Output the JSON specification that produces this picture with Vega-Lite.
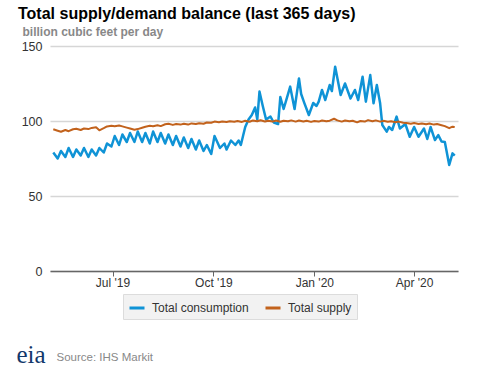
{
  "$schema": "https://vega.github.io/schema/vega-lite/v6.json",
  "width": 408,
  "height": 225,
  "autosize": "none",
  "padding": {"left": 50, "top": 46, "right": 19, "bottom": 96},
  "background": "#ffffff",
  "config": {"view": {"stroke": null}},
  "title": {
    "text": "Total supply/demand balance (last 365 days)",
    "anchor": "start",
    "frame": "group",
    "dx": -32,
    "dy": -3,
    "offset": 0,
    "font": "Liberation Sans",
    "fontSize": 16,
    "fontWeight": "bold",
    "color": "#000000"
  },
  "datasets": {
    "consumption": [
      {"d":"2019-05-08","v":79},{"d":"2019-05-12","v":75},{"d":"2019-05-15","v":80},{"d":"2019-05-19","v":76},
      {"d":"2019-05-22","v":82},{"d":"2019-05-26","v":76},{"d":"2019-05-29","v":81},{"d":"2019-06-02","v":77},
      {"d":"2019-06-05","v":82},{"d":"2019-06-09","v":76},{"d":"2019-06-12","v":81},{"d":"2019-06-16","v":77},
      {"d":"2019-06-19","v":82},{"d":"2019-06-23","v":79},{"d":"2019-06-26","v":85},{"d":"2019-06-30","v":83},
      {"d":"2019-07-03","v":90},{"d":"2019-07-07","v":84},{"d":"2019-07-10","v":91},{"d":"2019-07-14","v":86},
      {"d":"2019-07-17","v":92},{"d":"2019-07-21","v":86},{"d":"2019-07-24","v":93},{"d":"2019-07-28","v":86},
      {"d":"2019-07-31","v":92},{"d":"2019-08-04","v":85},{"d":"2019-08-07","v":93},{"d":"2019-08-11","v":86},
      {"d":"2019-08-14","v":92},{"d":"2019-08-18","v":85},{"d":"2019-08-21","v":91},{"d":"2019-08-25","v":84},
      {"d":"2019-08-28","v":90},{"d":"2019-09-01","v":83},{"d":"2019-09-04","v":89},{"d":"2019-09-08","v":82},
      {"d":"2019-09-11","v":88},{"d":"2019-09-15","v":81},{"d":"2019-09-18","v":87},{"d":"2019-09-22","v":80},
      {"d":"2019-09-25","v":84},{"d":"2019-09-29","v":78},{"d":"2019-10-02","v":90},{"d":"2019-10-07","v":82},
      {"d":"2019-10-11","v":85},{"d":"2019-10-13","v":81},{"d":"2019-10-17","v":87},{"d":"2019-10-21","v":84},
      {"d":"2019-10-24","v":87},{"d":"2019-10-26","v":84},{"d":"2019-10-28","v":90},{"d":"2019-10-30","v":96},
      {"d":"2019-11-02","v":101},{"d":"2019-11-05","v":104},{"d":"2019-11-08","v":109},{"d":"2019-11-10","v":101},
      {"d":"2019-11-12","v":119.6},{"d":"2019-11-15","v":110},{"d":"2019-11-18","v":101},{"d":"2019-11-22","v":103},
      {"d":"2019-11-25","v":99},{"d":"2019-11-29","v":98},{"d":"2019-12-01","v":116},{"d":"2019-12-04","v":108},
      {"d":"2019-12-06","v":112.9},{"d":"2019-12-10","v":122.9},{"d":"2019-12-14","v":108},{"d":"2019-12-18","v":128.4},
      {"d":"2019-12-20","v":118},{"d":"2019-12-23","v":111.8},{"d":"2019-12-27","v":104},{"d":"2019-12-31","v":112},
      {"d":"2020-01-03","v":110},{"d":"2020-01-05","v":112.9},{"d":"2020-01-08","v":120.7},{"d":"2020-01-11","v":114},
      {"d":"2020-01-15","v":124},{"d":"2020-01-17","v":120},{"d":"2020-01-20","v":136.2},{"d":"2020-01-25","v":117.3},
      {"d":"2020-01-29","v":125},{"d":"2020-02-03","v":115},{"d":"2020-02-07","v":120.7},{"d":"2020-02-10","v":114},
      {"d":"2020-02-14","v":129.5},{"d":"2020-02-17","v":112.9},{"d":"2020-02-21","v":130.6},{"d":"2020-02-24","v":111.8},
      {"d":"2020-02-27","v":124},{"d":"2020-03-01","v":111.8},{"d":"2020-03-03","v":97.3},{"d":"2020-03-07","v":92.9},
      {"d":"2020-03-09","v":96},{"d":"2020-03-12","v":94},{"d":"2020-03-16","v":102.9},{"d":"2020-03-19","v":95},
      {"d":"2020-03-24","v":98},{"d":"2020-03-28","v":89.5},{"d":"2020-04-01","v":96},{"d":"2020-04-05","v":89.5},
      {"d":"2020-04-10","v":95},{"d":"2020-04-13","v":88},{"d":"2020-04-16","v":96},{"d":"2020-04-20","v":87.3},
      {"d":"2020-04-23","v":90.6},{"d":"2020-04-26","v":86.3},{"d":"2020-04-29","v":86},{"d":"2020-05-03","v":70.7},
      {"d":"2020-05-06","v":78.4},{"d":"2020-05-08","v":76.9}
    ],
    "supply": [
      {"d":"2019-05-08","v":94.5},{"d":"2019-05-12","v":93.5},{"d":"2019-05-15","v":92.8},{"d":"2019-05-19","v":94},
      {"d":"2019-05-22","v":93.2},{"d":"2019-05-26","v":94.5},{"d":"2019-05-29","v":94.8},{"d":"2019-06-02","v":94},
      {"d":"2019-06-05","v":95},{"d":"2019-06-09","v":94.6},{"d":"2019-06-12","v":95.4},{"d":"2019-06-16","v":95.8},
      {"d":"2019-06-19","v":93.8},{"d":"2019-06-23","v":95.2},{"d":"2019-06-26","v":96.4},{"d":"2019-06-30","v":96.8},
      {"d":"2019-07-03","v":96.5},{"d":"2019-07-07","v":97},{"d":"2019-07-10","v":96.4},{"d":"2019-07-14","v":95.6},
      {"d":"2019-07-17","v":95},{"d":"2019-07-21","v":94.2},{"d":"2019-07-24","v":94.6},{"d":"2019-07-28","v":95.5},
      {"d":"2019-07-31","v":96.2},{"d":"2019-08-04","v":96.8},{"d":"2019-08-07","v":96.5},{"d":"2019-08-11","v":97.2},
      {"d":"2019-08-14","v":96.6},{"d":"2019-08-18","v":97.8},{"d":"2019-08-21","v":98.2},{"d":"2019-08-25","v":97.4},
      {"d":"2019-08-28","v":98},{"d":"2019-09-01","v":97.6},{"d":"2019-09-04","v":98.2},{"d":"2019-09-08","v":97.6},
      {"d":"2019-09-11","v":98.4},{"d":"2019-09-15","v":98},{"d":"2019-09-18","v":98.5},{"d":"2019-09-22","v":98.2},
      {"d":"2019-09-25","v":99},{"d":"2019-09-29","v":98.8},{"d":"2019-10-02","v":99.6},{"d":"2019-10-06","v":99.2},
      {"d":"2019-10-09","v":99.6},{"d":"2019-10-13","v":99.3},{"d":"2019-10-16","v":99.8},{"d":"2019-10-20","v":99.5},
      {"d":"2019-10-23","v":100},{"d":"2019-10-27","v":99.4},{"d":"2019-10-30","v":100.2},{"d":"2019-11-03","v":99.5},
      {"d":"2019-11-06","v":100.4},{"d":"2019-11-10","v":99.8},{"d":"2019-11-13","v":100.5},{"d":"2019-11-17","v":99.7},
      {"d":"2019-11-20","v":100.2},{"d":"2019-11-24","v":99.6},{"d":"2019-11-27","v":100.3},{"d":"2019-12-01","v":99.5},
      {"d":"2019-12-04","v":100.2},{"d":"2019-12-08","v":99.8},{"d":"2019-12-11","v":100.4},{"d":"2019-12-15","v":99.6},
      {"d":"2019-12-18","v":100.3},{"d":"2019-12-22","v":99.7},{"d":"2019-12-25","v":100.2},{"d":"2019-12-29","v":99.4},
      {"d":"2020-01-01","v":100},{"d":"2020-01-05","v":99.6},{"d":"2020-01-08","v":100.3},{"d":"2020-01-12","v":99.8},
      {"d":"2020-01-15","v":100.2},{"d":"2020-01-19","v":101.5},{"d":"2020-01-22","v":100.4},{"d":"2020-01-26","v":99.6},
      {"d":"2020-01-29","v":100.3},{"d":"2020-02-02","v":99.8},{"d":"2020-02-05","v":100.2},{"d":"2020-02-09","v":99.1},
      {"d":"2020-02-12","v":100},{"d":"2020-02-16","v":99.6},{"d":"2020-02-19","v":100.6},{"d":"2020-02-23","v":99.8},
      {"d":"2020-02-26","v":100.4},{"d":"2020-03-01","v":99.6},{"d":"2020-03-04","v":100.1},{"d":"2020-03-08","v":99.5},
      {"d":"2020-03-11","v":99.8},{"d":"2020-03-15","v":99.2},{"d":"2020-03-18","v":99.6},{"d":"2020-03-22","v":98.8},
      {"d":"2020-03-25","v":98.6},{"d":"2020-03-29","v":98.2},{"d":"2020-04-01","v":98.6},{"d":"2020-04-05","v":98},
      {"d":"2020-04-08","v":98.4},{"d":"2020-04-12","v":97.8},{"d":"2020-04-15","v":98.3},{"d":"2020-04-19","v":97.6},
      {"d":"2020-04-22","v":98},{"d":"2020-04-26","v":97.2},{"d":"2020-04-29","v":96.6},{"d":"2020-05-03","v":95.2},
      {"d":"2020-05-06","v":96.2},{"d":"2020-05-08","v":96}
    ]
  },
  "layer": [
    {
      "data": {"name": "consumption"},
      "mark": {"type": "line", "strokeWidth": 2.5, "strokeJoin": "round"},
      "encoding": {
        "x": {
          "field": "d", "type": "temporal",
          "scale": {"type": "utc", "domain": [{"year": 2019, "month": 5, "date": 5, "utc": true}, {"year": 2020, "month": 5, "date": 11, "utc": true}]},
          "axis": {
            "values": [
              {"year": 2019, "month": 7, "date": 1, "utc": true},
              {"year": 2019, "month": 10, "date": 1, "utc": true},
              {"year": 2020, "month": 1, "date": 1, "utc": true},
              {"year": 2020, "month": 4, "date": 1, "utc": true}
            ],
            "format": "%b '%y",
            "grid": false,
            "domainColor": "#666666", "domainWidth": 1.5,
            "tickColor": "#666666", "tickSize": 5, "tickWidth": 1,
            "labelFont": "Liberation Sans", "labelFontSize": 12, "labelColor": "#333333", "labelPadding": 1,
            "title": "Source: IHS Markit",
            "titleAnchor": "start", "titleAlign": "left", "titleBaseline": "alphabetic",
            "titleX": 6, "titleY": 89,
            "titleFont": "Liberation Sans", "titleFontSize": 11.5, "titleFontWeight": "normal", "titleColor": "#888888"
          }
        },
        "y": {
          "field": "v", "type": "quantitative",
          "scale": {"domain": [0, 150]},
          "axis": {
            "values": [0, 50, 100, 150],
            "grid": true, "gridColor": "#d6d6d6", "gridWidth": 1.5,
            "domain": false, "ticks": false,
            "labelPadding": 8, "labelFont": "Liberation Sans", "labelFontSize": 12.5, "labelColor": "#333333",
            "title": "billion cubic feet per day",
            "titleAngle": 0, "titleAlign": "left", "titleBaseline": "alphabetic",
            "titleX": -28, "titleY": -11,
            "titleFont": "Liberation Sans", "titleFontSize": 12, "titleFontWeight": "bold", "titleColor": "#888888"
          }
        },
        "color": {
          "datum": "Total consumption",
          "scale": {"domain": ["Total consumption", "Total supply"], "range": ["#0f93d6", "#c2621c"]},
          "legend": {
            "orient": "none", "legendX": 73, "legendY": 248, "direction": "horizontal",
            "title": null, "fillColor": "#f2f2f2", "strokeColor": "#dcdcdc", "padding": 5,
            "symbolType": "stroke", "symbolSize": 225, "symbolStrokeWidth": 3,
            "labelFont": "Liberation Sans", "labelFontSize": 12, "labelColor": "#333333",
            "labelOffset": 6, "columnPadding": 10
          }
        }
      }
    },
    {
      "data": {"name": "supply"},
      "mark": {"type": "line", "strokeWidth": 2, "strokeJoin": "round"},
      "encoding": {
        "x": {"field": "d", "type": "temporal"},
        "y": {"field": "v", "type": "quantitative", "scale": {"domain": [0, 150]}, "axis": null},
        "color": {"datum": "Total supply"}
      }
    },
    {
      "data": {"values": [{}]},
      "mark": {"type": "rule", "opacity": 0},
      "encoding": {
        "y": {
          "datum": 0, "type": "quantitative",
          "scale": {"domain": [0, 150]},
          "axis": {
            "orient": "right", "labels": false, "ticks": false, "domain": false, "grid": false,
            "title": "eia", "titleAngle": 0, "titleAlign": "left", "titleBaseline": "alphabetic",
            "titleX": -442, "titleY": 316,
            "titleFont": "Liberation Serif", "titleFontSize": 25, "titleFontWeight": "normal", "titleColor": "#12386b"
          }
        }
      }
    }
  ],
  "resolve": {"scale": {"y": "independent"}}
}
